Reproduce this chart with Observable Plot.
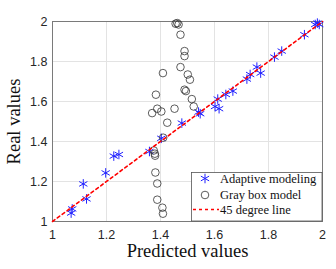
<!DOCTYPE html>
<html><head><meta charset="utf-8">
<script src="https://cdn.jsdelivr.net/npm/d3@7"></script>
<script src="https://cdn.jsdelivr.net/npm/@observablehq/plot@0.6"></script>
<style>body{margin:0;background:#fff}</style>
</head><body><div id="chart"></div>
<script>
// Adaptive modeling (asterisks)
const adaptivePredicted = [1.069,1.073,1.126,1.114,1.197,1.227,1.246,1.359,1.403,1.479,1.541,1.547,1.612,1.602,1.617,1.642,1.668,1.720,1.732,1.757,1.771,1.822,1.849,1.933,1.973,1.981,1.988];
const adaptiveReal      = [1.042,1.063,1.113,1.188,1.243,1.327,1.335,1.350,1.416,1.492,1.547,1.539,1.612,1.575,1.564,1.635,1.652,1.712,1.735,1.772,1.742,1.822,1.852,1.934,1.985,1.992,1.985];
// Gray box model (circles)
const grayPredicted = [1.462,1.467,1.456,1.474,1.489,1.489,1.474,1.409,1.501,1.509,1.489,1.494,1.383,1.516,1.388,1.369,1.403,1.452,1.523,1.425,1.410,1.375,1.379,1.380,1.381,1.388,1.388,1.407,1.409];
const grayReal      = [1.992,1.985,1.989,1.934,1.852,1.827,1.772,1.742,1.735,1.709,1.659,1.652,1.634,1.612,1.564,1.542,1.550,1.564,1.575,1.494,1.419,1.355,1.339,1.329,1.245,1.190,1.109,1.069,1.039];
// 45 degree line
const lineX = [1, 2];
const lineY = [1, 2];
const xTicks = [1, 1.2, 1.4, 1.6, 1.8, 2];
const yTicks = [1, 1.2, 1.4, 1.6, 1.8, 2];
const legendLabels = ["Adaptive modeling", "Gray box model", "45 degree line"];
const xLabel = "Predicted values";
const yLabel = "Real values";

const adaptive = adaptivePredicted.map((x, i) => ({x, y: adaptiveReal[i]}));
const gray = grayPredicted.map((x, i) => ({x, y: grayReal[i]}));
const diag = lineX.map((x, i) => ({x, y: lineY[i]}));

const W = 336, H = 269, mL = 52, mR = 14, mT = 21, mB = 48;
const serif = "'Liberation Serif', 'DejaVu Serif', serif";

const chart = Plot.plot({
  width: W, height: H,
  marginLeft: mL, marginRight: mR, marginTop: mT, marginBottom: mB,
  x: {domain: [1, 2]},
  y: {domain: [1, 2]},
  style: {fontFamily: "'Liberation Sans', Arial, sans-serif", fontSize: "12.5px", color: "#262626", background: "#fff"},
  marks: [
    Plot.gridX(xTicks, {stroke: "#e3e3e3", strokeOpacity: 1}),
    Plot.gridY(yTicks, {stroke: "#e3e3e3", strokeOpacity: 1}),
    Plot.frame({stroke: "#7a7a7a", strokeWidth: 1}),
    Plot.axisX(xTicks, {tickSize: 0, tickPadding: 9, tickFormat: d => String(d), label: null}),
    Plot.axisY(yTicks, {tickSize: 0, tickPadding: 5, tickFormat: d => String(d), label: null}),
    Plot.dot(adaptive, {x: "x", y: "y", symbol: "asterisk", r: 4.5, stroke: "#2020ff", strokeWidth: 1}),
    Plot.dot(gray, {x: "x", y: "y", r: 3.8, stroke: "#333", fill: "none", strokeWidth: 0.8}),
    Plot.line(diag, {x: "x", y: "y", stroke: "#ff0000", strokeWidth: 1.6, strokeDasharray: "3,3"}),
    Plot.text([xLabel], {frameAnchor: "bottom", dy: 30, lineAnchor: "middle", textAnchor: "middle", fontFamily: serif, fontSize: 18.5, fill: "#111", text: d => d}),
    Plot.text([yLabel], {frameAnchor: "left", dx: -38, rotate: -90, lineAnchor: "middle", textAnchor: "middle", fontFamily: serif, fontSize: 18.5, fill: "#111", text: d => d})
  ]
});
document.getElementById("chart").appendChild(chart);

// Legend
const svg = d3.select(chart);
const lw = 131, lh = 48.5;
const lx = W - mR - lw, ly = H - mB - lh;
const lg = svg.append("g").attr("text-anchor", "start");
lg.append("rect").attr("x", lx + 0.5).attr("y", ly).attr("width", lw - 0.5).attr("height", lh)
  .attr("fill", "#fff").attr("stroke", "#555").attr("stroke-width", 0.8);
const rows = [ly + 6, ly + 22.5, ly + 37];
lg.append("path").attr("transform", `translate(${lx + 14},${rows[0]})`)
  .attr("d", d3.symbol(d3.symbolAsterisk, 4.5 * 4.5 * Math.PI)()).attr("stroke", "#2020ff").attr("fill", "none");
lg.append("circle").attr("cx", lx + 14).attr("cy", rows[1]).attr("r", 3.8)
  .attr("stroke", "#333").attr("fill", "none").attr("stroke-width", 0.8);
lg.append("line").attr("x1", lx + 2).attr("x2", lx + 28).attr("y1", rows[2]).attr("y2", rows[2])
  .attr("stroke", "#ff0000").attr("stroke-width", 1.6).attr("stroke-dasharray", "3,3");
legendLabels.forEach((t, i) => {
  lg.append("text").attr("x", lx + 29).attr("y", rows[i]).attr("dy", "0.35em").attr("text-anchor", "start")
    .attr("font-family", serif).attr("font-size", 12.5).attr("fill", "#111").text(t);
});
</script></body></html>
